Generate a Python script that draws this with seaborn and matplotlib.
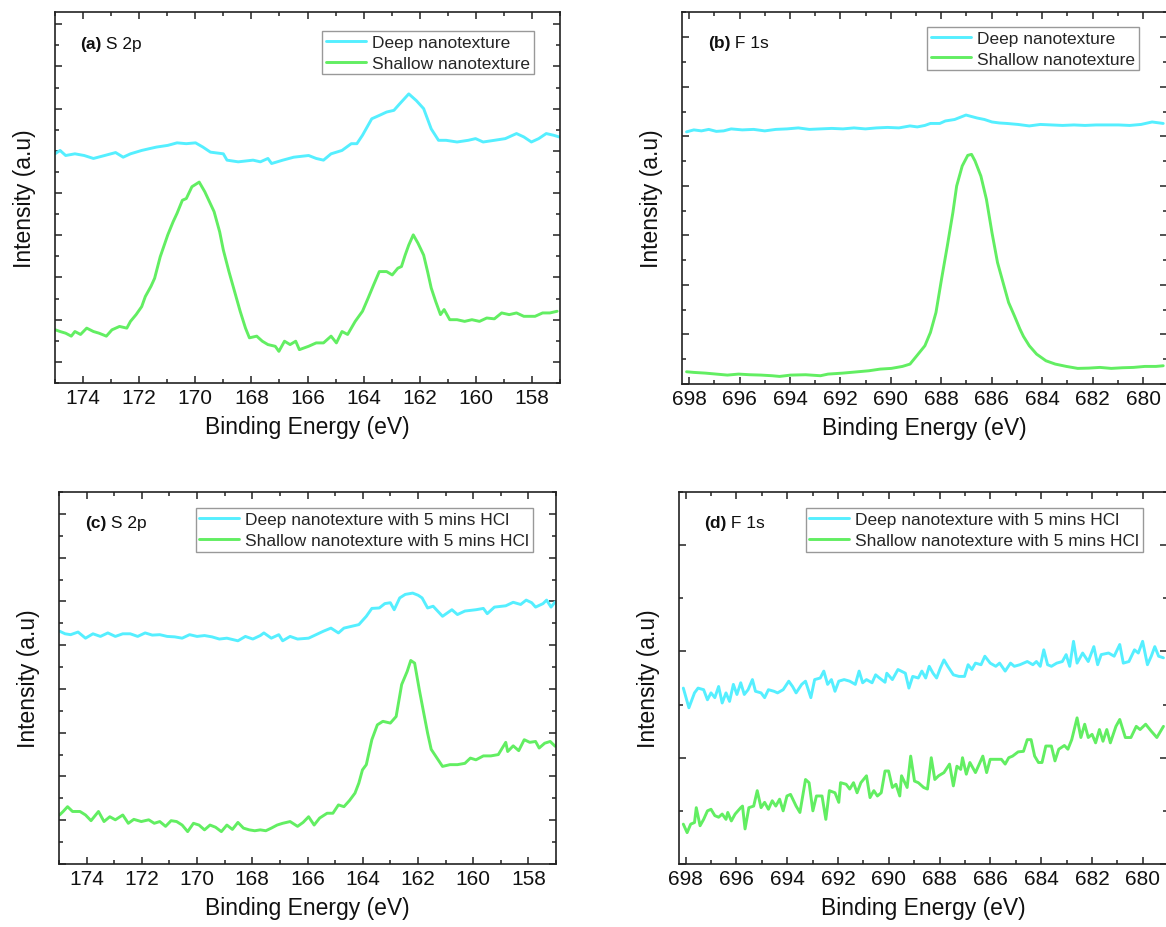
import matplotlib
matplotlib.use("Agg")
import matplotlib.pyplot as plt
import seaborn as sns
import pandas as pd
from matplotlib.ticker import MultipleLocator

# ---------------- data (binding energy in eV, intensity in a.u.) ----------------
a_deep_e = [175.0, 174.82, 174.62, 174.29, 173.96, 173.63, 173.23, 172.84, 172.57, 172.31,
            171.91, 171.65, 171.38, 170.98, 170.65, 170.32, 169.99, 169.73, 169.46, 169.0,
            168.87, 168.47, 167.94, 167.68, 167.41, 167.28, 166.88, 166.49, 165.96, 165.69,
            165.43, 165.16, 164.77, 164.44, 164.24, 164.04, 163.71, 163.44, 163.18, 162.92,
            162.72, 162.39, 162.12, 161.86, 161.59, 161.33, 161.06, 160.67, 160.27, 160.01,
            159.74, 159.34, 158.95, 158.55, 158.29, 158.02, 157.76, 157.49, 157.23, 157.03]
a_deep_i = [5.93, 6.01, 5.89, 5.93, 5.89, 5.82, 5.89, 5.96, 5.85, 5.93,
            6.01, 6.05, 6.09, 6.13, 6.19, 6.17, 6.19, 6.09, 5.97, 5.93,
            5.78, 5.74, 5.78, 5.74, 5.82, 5.70, 5.78, 5.85, 5.89, 5.82,
            5.78, 5.93, 6.01, 6.17, 6.17, 6.37, 6.76, 6.84, 6.92, 6.96,
            7.11, 7.35, 7.19, 7.00, 6.52, 6.25, 6.25, 6.21, 6.25, 6.29,
            6.21, 6.25, 6.29, 6.41, 6.33, 6.21, 6.29, 6.41, 6.37, 6.33]

a_shal_e = [174.99, 174.82, 174.62, 174.42, 174.29, 174.09, 173.87, 173.63, 173.43, 173.17,
            172.97, 172.70, 172.44, 172.31, 172.11, 171.91, 171.78, 171.58, 171.45, 171.25,
            170.98, 170.79, 170.65, 170.46, 170.32, 170.12, 169.86, 169.66, 169.33, 169.13,
            169.0, 168.80, 168.60, 168.40, 168.21, 168.07, 167.81, 167.61, 167.41, 167.15,
            167.02, 166.82, 166.62, 166.42, 166.29, 165.96, 165.69, 165.43, 165.16, 164.97,
            164.77, 164.57, 164.30, 164.04, 163.84, 163.64, 163.44, 163.18, 162.98, 162.78,
            162.65, 162.52, 162.39, 162.23, 162.06, 161.86, 161.72, 161.59, 161.43, 161.26,
            161.13, 160.93, 160.67, 160.40, 160.14, 159.87, 159.61, 159.34, 159.08, 158.81,
            158.55, 158.29, 157.89, 157.62, 157.36, 157.10]
a_shal_i = [1.76, 1.72, 1.68, 1.61, 1.72, 1.65, 1.80, 1.72, 1.68, 1.61,
            1.76, 1.84, 1.80, 1.96, 2.12, 2.31, 2.55, 2.79, 2.98, 3.49,
            4.01, 4.32, 4.52, 4.83, 4.87, 5.15, 5.26, 5.03, 4.56, 4.08,
            3.65, 3.14, 2.67, 2.20, 1.80, 1.57, 1.61, 1.49, 1.41, 1.37,
            1.25, 1.49, 1.41, 1.49, 1.29, 1.37, 1.45, 1.45, 1.61, 1.45,
            1.72, 1.65, 1.96, 2.20, 2.51, 2.83, 3.14, 3.14, 3.06, 3.22,
            3.26, 3.53, 3.77, 4.01, 3.81, 3.53, 3.14, 2.75, 2.43, 2.12,
            2.24, 2.00, 2.00, 1.96, 2.00, 1.96, 2.04, 2.02, 2.16, 2.12,
            2.16, 2.08, 2.08, 2.16, 2.16, 2.20]

b_deep_e = [698.10, 697.81, 697.51, 697.22, 696.92, 696.63, 696.33, 695.89, 695.44, 695.00,
            694.56, 694.12, 693.67, 693.23, 692.79, 692.34, 691.90, 691.46, 691.01, 690.57,
            690.13, 689.68, 689.24, 688.95, 688.65, 688.43, 688.06, 687.84, 687.47, 687.17,
            687.02, 686.80, 686.58, 686.29, 685.99, 685.70, 685.40, 684.96, 684.51, 684.07,
            683.63, 683.19, 682.74, 682.30, 681.86, 681.41, 680.97, 680.53, 680.08, 679.64,
            679.20]
b_deep_i = [5.09, 5.13, 5.11, 5.14, 5.10, 5.11, 5.15, 5.13, 5.14, 5.11,
            5.14, 5.15, 5.17, 5.14, 5.15, 5.16, 5.15, 5.17, 5.15, 5.17,
            5.18, 5.17, 5.21, 5.19, 5.22, 5.26, 5.26, 5.31, 5.34, 5.40,
            5.43, 5.40, 5.37, 5.34, 5.29, 5.27, 5.26, 5.24, 5.21, 5.24,
            5.23, 5.22, 5.23, 5.22, 5.23, 5.23, 5.23, 5.22, 5.24, 5.29,
            5.26]

b_shal_e = [698.10, 697.81, 697.36, 696.92, 696.48, 696.04, 695.59, 695.15, 694.71, 694.41,
            693.97, 693.38, 692.79, 692.49, 691.90, 691.31, 690.87, 690.42, 689.98, 689.54,
            689.24, 688.95, 688.65, 688.43, 688.21, 687.99, 687.76, 687.54, 687.39, 687.17,
            686.95, 686.80, 686.66, 686.43, 686.21, 685.99, 685.77, 685.55, 685.33, 685.10,
            684.88, 684.74, 684.51, 684.22, 683.85, 683.48, 683.04, 682.59, 682.15, 681.71,
            681.26, 680.82, 680.38, 679.93, 679.49, 679.20]
b_shal_i = [0.247, 0.234, 0.220, 0.200, 0.180, 0.200, 0.187, 0.180, 0.167, 0.153,
            0.180, 0.187, 0.167, 0.200, 0.220, 0.247, 0.267, 0.301, 0.315, 0.355,
            0.402, 0.583, 0.772, 1.040, 1.444, 2.116, 2.788, 3.460, 3.997, 4.401,
            4.616, 4.636, 4.501, 4.199, 3.728, 3.056, 2.452, 2.048, 1.645, 1.376,
            1.108, 0.960, 0.772, 0.603, 0.469, 0.402, 0.355, 0.315, 0.321, 0.335,
            0.315, 0.328, 0.335, 0.355, 0.355, 0.368]

c_deep_e = [174.98, 174.78, 174.58, 174.31, 174.04, 173.77, 173.50, 173.23, 172.96, 172.69,
            172.42, 172.15, 171.88, 171.62, 171.35, 171.08, 170.81, 170.54, 170.27, 170.00,
            169.73, 169.46, 169.19, 168.92, 168.52, 168.25, 167.98, 167.71, 167.58, 167.31,
            167.04, 166.90, 166.63, 166.36, 165.96, 165.69, 165.42, 165.15, 164.88, 164.68,
            164.41, 164.14, 163.87, 163.67, 163.40, 163.20, 163.00, 162.86, 162.66, 162.46,
            162.19, 161.99, 161.85, 161.65, 161.45, 161.11, 160.77, 160.57, 160.30, 159.90,
            159.63, 159.49, 159.23, 158.82, 158.55, 158.28, 158.08, 157.88, 157.74, 157.47,
            157.34, 157.18, 157.03]
c_deep_i = [5.32, 5.26, 5.24, 5.30, 5.16, 5.26, 5.20, 5.28, 5.20, 5.26,
            5.26, 5.20, 5.28, 5.23, 5.24, 5.20, 5.19, 5.16, 5.24, 5.20,
            5.22, 5.19, 5.14, 5.16, 5.10, 5.20, 5.14, 5.22, 5.28, 5.16,
            5.24, 5.10, 5.20, 5.14, 5.16, 5.24, 5.32, 5.39, 5.28, 5.39,
            5.43, 5.47, 5.66, 5.84, 5.85, 5.95, 5.97, 5.81, 6.08, 6.16,
            6.19, 6.14, 6.08, 5.85, 5.89, 5.66, 5.81, 5.70, 5.78, 5.81,
            5.84, 5.72, 5.87, 5.90, 5.98, 5.93, 6.03, 5.97, 5.87, 5.95,
            6.03, 5.87, 5.99]

c_shal_e = [174.98, 174.85, 174.69, 174.51, 174.24, 174.04, 173.84, 173.57, 173.37, 173.16,
            172.96, 172.69, 172.49, 172.29, 172.02, 171.75, 171.55, 171.35, 171.14, 170.94,
            170.74, 170.54, 170.34, 170.13, 169.93, 169.73, 169.53, 169.33, 169.12, 168.92,
            168.72, 168.52, 168.32, 168.11, 167.91, 167.71, 167.51, 167.31, 167.10, 166.90,
            166.63, 166.36, 166.16, 165.96, 165.76, 165.56, 165.29, 165.08, 164.88, 164.68,
            164.48, 164.28, 164.14, 164.01, 163.87, 163.67, 163.47, 163.27, 163.00, 162.79,
            162.59, 162.39, 162.26, 162.12, 161.95, 161.79, 161.65, 161.52, 161.31, 161.11,
            160.84, 160.57, 160.30, 160.10, 159.90, 159.63, 159.36, 159.09, 158.82, 158.75,
            158.55, 158.35, 158.15, 157.95, 157.74, 157.61, 157.41, 157.21, 157.03]
c_shal_i = [1.12, 1.20, 1.31, 1.20, 1.20, 1.12, 0.99, 1.20, 0.97, 1.08,
            1.01, 1.12, 0.93, 1.02, 0.97, 1.01, 0.93, 0.97, 0.86, 0.99,
            0.97, 0.89, 0.74, 0.93, 0.89, 0.78, 0.89, 0.84, 0.74, 0.89,
            0.79, 0.95, 0.82, 0.78, 0.76, 0.78, 0.76, 0.82, 0.89, 0.93,
            0.97, 0.86, 0.95, 1.08, 0.89, 1.05, 1.16, 1.16, 1.35, 1.31,
            1.45, 1.62, 1.85, 2.15, 2.27, 2.84, 3.18, 3.26, 3.22, 3.37,
            4.10, 4.40, 4.65, 4.59, 3.98, 3.45, 2.99, 2.62, 2.42, 2.23,
            2.27, 2.27, 2.30, 2.42, 2.38, 2.47, 2.47, 2.50, 2.78, 2.57,
            2.70, 2.59, 2.84, 2.78, 2.80, 2.65, 2.76, 2.80, 2.69]

d_deep_e = [698.09, 697.87, 697.65, 697.51, 697.29, 697.14, 697.00, 696.85, 696.70, 696.56,
            696.41, 696.27, 696.12, 695.98, 695.83, 695.69, 695.54, 695.37, 695.25, 695.03,
            694.89, 694.74, 694.52, 694.38, 694.16, 693.94, 693.79, 693.65, 693.43, 693.28,
            693.07, 692.92, 692.70, 692.56, 692.41, 692.26, 692.12, 691.97, 691.76, 691.54,
            691.32, 691.17, 691.03, 690.88, 690.66, 690.52, 690.37, 690.15, 690.08, 689.86,
            689.64, 689.35, 689.21, 689.06, 688.84, 688.70, 688.55, 688.41, 688.26, 688.12,
            687.97, 687.83, 687.68, 687.46, 687.24, 687.02, 686.88, 686.73, 686.59, 686.37,
            686.22, 686.01, 685.79, 685.64, 685.42, 685.21, 685.06, 684.84, 684.55, 684.33,
            684.19, 684.04, 683.90, 683.75, 683.60, 683.39, 683.17, 683.02, 682.88, 682.73,
            682.59, 682.37, 682.15, 681.93, 681.78, 681.64, 681.35, 681.13, 680.91, 680.77,
            680.55, 680.33, 680.18, 680.01, 679.82, 679.67, 679.53, 679.38, 679.19]
d_deep_i = [3.31, 2.94, 3.22, 3.31, 3.28, 3.09, 3.22, 3.13, 3.34, 3.03,
            3.22, 3.06, 3.38, 3.19, 3.41, 3.19, 3.28, 3.47, 3.25, 3.22,
            3.13, 3.28, 3.25, 3.22, 3.28, 3.44, 3.34, 3.22, 3.38, 3.44,
            3.13, 3.47, 3.50, 3.63, 3.38, 3.47, 3.25, 3.44, 3.47, 3.44,
            3.38, 3.63, 3.41, 3.47, 3.41, 3.56, 3.50, 3.42, 3.59, 3.47,
            3.66, 3.59, 3.31, 3.53, 3.50, 3.63, 3.50, 3.72, 3.59, 3.50,
            3.69, 3.84, 3.72, 3.56, 3.53, 3.53, 3.75, 3.66, 3.78, 3.75,
            3.91, 3.78, 3.72, 3.78, 3.63, 3.78, 3.72, 3.75, 3.81, 3.75,
            3.81, 3.72, 4.03, 3.75, 3.72, 3.78, 3.81, 3.94, 3.72, 4.19,
            3.78, 3.97, 3.81, 4.09, 3.75, 3.94, 3.97, 3.91, 4.13, 3.78,
            3.81, 4.03, 3.97, 4.19, 3.75, 3.91, 4.09, 3.91, 3.88]

d_shal_e = [698.09, 697.94, 697.80, 697.65, 697.58, 697.43, 697.29, 697.14, 697.00, 696.85,
            696.70, 696.56, 696.41, 696.34, 696.20, 696.05, 695.83, 695.76, 695.66, 695.51,
            695.32, 695.18, 695.03, 694.89, 694.74, 694.59, 694.45, 694.30, 694.16, 694.01,
            693.87, 693.65, 693.50, 693.28, 693.14, 692.99, 692.85, 692.63, 692.48, 692.34,
            692.12, 691.97, 691.90, 691.68, 691.54, 691.39, 691.25, 691.10, 690.88, 690.74,
            690.59, 690.45, 690.30, 690.15, 690.01, 689.86, 689.72, 689.57, 689.50, 689.28,
            689.14, 688.99, 688.84, 688.63, 688.48, 688.33, 688.19, 688.04, 687.83, 687.61,
            687.46, 687.32, 687.17, 687.10, 686.95, 686.81, 686.59, 686.44, 686.30, 686.15,
            686.01, 685.79, 685.57, 685.42, 685.28, 685.13, 684.91, 684.70, 684.55, 684.40,
            684.26, 684.11, 683.97, 683.82, 683.60, 683.46, 683.31, 683.09, 682.95, 682.80,
            682.59, 682.44, 682.29, 682.15, 682.00, 681.86, 681.71, 681.57, 681.42, 681.28,
            681.06, 680.91, 680.69, 680.47, 680.26, 680.11, 679.89, 679.67, 679.45, 679.19]
d_shal_i = [0.75, 0.59, 0.75, 0.78, 1.06, 0.72, 0.84, 1.00, 1.03, 0.91,
            0.88, 0.94, 0.84, 0.97, 0.81, 0.94, 1.06, 1.09, 0.66, 1.06,
            1.09, 1.38, 1.06, 1.16, 1.03, 1.19, 1.09, 1.22, 1.00, 1.28,
            1.31, 1.09, 0.97, 1.59, 1.53, 1.00, 1.28, 1.28, 0.84, 1.38,
            1.34, 1.16, 1.53, 1.50, 1.41, 1.53, 1.34, 1.53, 1.66, 1.25,
            1.38, 1.28, 1.34, 1.75, 1.75, 1.44, 1.50, 1.28, 1.66, 1.44,
            2.03, 1.56, 1.53, 1.44, 1.41, 2.00, 1.59, 1.66, 1.72, 1.88,
            1.47, 1.84, 1.78, 2.00, 1.69, 1.91, 1.72, 1.88, 2.03, 1.72,
            1.97, 1.97, 1.97, 1.88, 2.00, 2.03, 2.11, 2.12, 2.34, 2.34,
            2.03, 1.91, 1.91, 2.22, 2.22, 1.94, 2.16, 2.23, 2.16, 2.34,
            2.75, 2.38, 2.63, 2.38, 2.44, 2.28, 2.53, 2.31, 2.53, 2.28,
            2.59, 2.72, 2.38, 2.38, 2.59, 2.53, 2.63, 2.50, 2.38, 2.59]

panel_tags = ["(a)", "(b)", "(c)", "(d)"]
panel_elems = [" S 2p", " F 1s", " S 2p", " F 1s"]
labels_plain = ["Deep nanotexture", "Shallow nanotexture"]
labels_hcl = ["Deep nanotexture with 5 mins HCl", "Shallow nanotexture with 5 mins HCl"]
x_label = "Binding Energy (eV)"
y_label = "Intensity (a.u)"

# ---------------- style ----------------
sns.set_theme(style="ticks")
plt.rcParams["font.family"] = ["Liberation Sans", "DejaVu Sans"]
CYAN = "#55EFFF"
GREEN = "#62EE62"
SPINE = "#222222"
W, H = 1166, 928

fig = plt.figure(figsize=(W / 100, H / 100), dpi=100)

def rect(l, t, r, b):
    return [l / W, 1 - b / H, (r - l) / W, (b - t) / H]

panels = [
    dict(r=rect(55, 13, 560, 384), xlim=(175, 157), ylim=(0.5, 9.29), ym=1.0,
         deep=(a_deep_e, a_deep_i), shal=(a_shal_e, a_shal_i), labels=labels_plain,
         leg=(0.9485, 0.949), tag=(0.049, 0.914)),
    dict(r=rect(682, 13, 1167, 385), xlim=(698.28, 679.05), ylim=(0.0, 7.51), ym=1.0,
         deep=(b_deep_e, b_deep_i), shal=(b_shal_e, b_shal_i), labels=labels_plain,
         leg=(0.942, 0.960), tag=(0.053, 0.919)),
    dict(r=rect(59, 493, 556, 865), xlim=(175, 157), ylim=(0.0, 8.5), ym=1.0,
         deep=(c_deep_e, c_deep_i), shal=(c_shal_e, c_shal_i), labels=labels_hcl,
         leg=(0.954, 0.956), tag=(0.052, 0.917)),
    dict(r=rect(679, 493, 1167, 865), xlim=(698.26, 679.05), ylim=(0.0, 7.0), ym=2.0,
         deep=(d_deep_e, d_deep_i), shal=(d_shal_e, d_shal_i), labels=labels_hcl,
         leg=(0.951, 0.956), tag=(0.051, 0.917)),
]

for p, tag, elem in zip(panels, panel_tags, panel_elems):
    ax = fig.add_axes(p["r"])
    df_d = pd.DataFrame({"E": p["deep"][0], "I": p["deep"][1]})
    df_s = pd.DataFrame({"E": p["shal"][0], "I": p["shal"][1]})
    sns.lineplot(data=df_d, x="E", y="I", ax=ax, color=CYAN, lw=2.1,
                 label=p["labels"][0], estimator=None, sort=False)
    sns.lineplot(data=df_s, x="E", y="I", ax=ax, color=GREEN, lw=2.1,
                 label=p["labels"][1], estimator=None, sort=False)
    ax.set_xlim(*p["xlim"])
    ax.set_ylim(*p["ylim"])
    ax.xaxis.set_major_locator(MultipleLocator(2))
    ax.xaxis.set_minor_locator(MultipleLocator(1))
    ax.yaxis.set_major_locator(MultipleLocator(p["ym"]))
    ax.yaxis.set_minor_locator(MultipleLocator(p["ym"] / 2))
    ax.tick_params(which="both", direction="in", top=True, right=True,
                   labelleft=False, color=SPINE, width=1.1)
    ax.tick_params(which="major", length=5, labelsize=15, pad=3.5, labelcolor="#111111")
    ax.tick_params(which="minor", length=2.6)
    for s in ax.spines.values():
        s.set_color(SPINE)
        s.set_linewidth(1.2)
    ax.set_xlabel(x_label, fontsize=16.5, labelpad=6, color="#111111")
    ax.set_ylabel(y_label, fontsize=16.5, labelpad=14, color="#111111")
    ax.grid(False)
    leg = ax.legend(loc="upper right", bbox_to_anchor=p["leg"], borderaxespad=0,
                    fontsize=12.5, frameon=True, fancybox=False, framealpha=1,
                    edgecolor="#999999", handlelength=2.3, handletextpad=0.35,
                    borderpad=0.22, labelspacing=0.32)
    leg.get_frame().set_linewidth(1.0)
    t1 = ax.text(p["tag"][0], p["tag"][1], tag, transform=ax.transAxes,
                 fontsize=12.5, fontweight="bold", va="center", ha="left", color="#111111")
    ax.annotate(elem, xy=(1, 0), xycoords=t1, va="bottom", ha="left",
                fontsize=12.5, color="#111111")

fig.savefig("out.png", dpi=100)
